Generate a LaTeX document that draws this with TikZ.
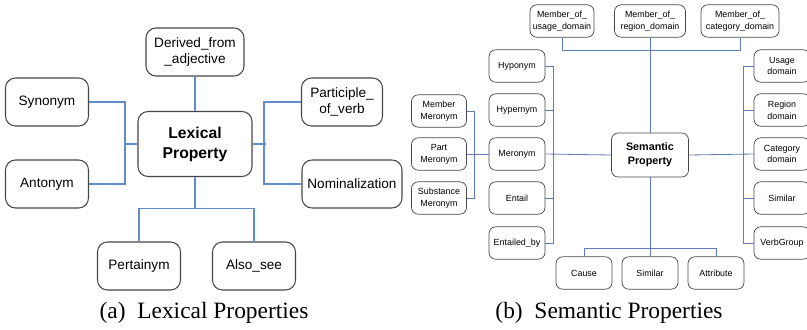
\documentclass[tikz,border=0pt]{standalone}
\usepackage{fontspec}
\setmainfont{Liberation Serif}
\setsansfont{Liberation Sans}
\usepackage{xcolor}
\usepackage{tikz}
\usetikzlibrary{positioning,calc}

\definecolor{lexblue}{RGB}{100,140,205}
\definecolor{semblue}{RGB}{95,125,180}
\definecolor{boxgray}{RGB}{70,70,70}

\begin{document}
\begin{tikzpicture}[x=0.03cm,y=-0.03cm,
  lexbox/.style={draw=boxgray,line width=0.9pt,rounded corners=0.3cm,align=center,inner sep=0pt,
    minimum width=2.49cm,minimum height=1.44cm,font=\sffamily\fontsize{11.6}{14}\selectfont},
  sembox/.style={draw=boxgray,line width=0.6pt,rounded corners=0.2cm,align=center,inner sep=0pt,
    minimum width=1.68cm,minimum height=0.97cm,font=\sffamily\fontsize{7.6}{10}\selectfont},
  lexline/.style={draw=lexblue,line width=1.3pt},
  semline/.style={draw=semblue,line width=0.7pt},
  caption/.style={anchor=base,font=\fontsize{20}{24}\selectfont}]
\useasboundingbox (0,0) rectangle (807,329);

% (a) lexical properties
\node[lexbox,minimum width=3.42cm,minimum height=1.95cm,font=\sffamily\bfseries\fontsize{13.4}{17}\selectfont] (lex) at (195,144) {Lexical\\Property};
\node[lexbox,minimum width=2.94cm] (derived) at (195,52) {Derived\_from\\\_adjective};
\node[lexbox] (syn) at (47,102) {Synonym};
\node[lexbox] (ant) at (47,184) {Antonym};
\node[lexbox,minimum width=2.43cm] (part) at (342,102) {Participle\_\\of\_verb};
\node[lexbox,minimum width=3.0cm] (nom) at (352,184) {Nominalization};
\node[lexbox] (pert) at (139,266) {Pertainym};
\node[lexbox] (also) at (254,266) {Also\_see};

\draw[lexline] (derived.south) -- (lex.north);
\draw[lexline] (syn.east) -- ++(36,0) |- (ant.east);
\draw[lexline] (lex.west) -- ++(-13,0);
\draw[lexline] (part.west) -- ++(-37,0) |- (nom.west);
\draw[lexline] (lex.east) -- ++(13,0);
\draw[lexline] (lex.south) -- ++(0,32);
\draw[lexline] (pert.north) -- ++(0,-33) -| (also.north);

\node[caption] (capa) at (204,318) {(a)\ \ Lexical Properties};

% (b) semantic properties
\node[sembox,minimum width=2.31cm,minimum height=1.32cm,font=\sffamily\bfseries\fontsize{9.2}{12}\selectfont] (sem) at (650,155) {Semantic\\Property};
\node[sembox,minimum width=1.92cm] (musage) at (562,21) {Member\_of\_\\usage\_domain};
\node[sembox,minimum width=2.13cm] (mregion) at (650,21) {Member\_of\_\\region\_domain};
\node[sembox,minimum width=2.34cm] (mcat) at (740,21) {Member\_of\_\\category\_domain};

\node[sembox] (hypo) at (517,66) {Hyponym};
\node[sembox] (hyper) at (517,110) {Hypernym};
\node[sembox] (mero) at (517,154) {Meronym};
\node[sembox] (entail) at (517,198) {Entail};
\node[sembox] (entby) at (517,243) {Entailed\_by};

\node[sembox,minimum width=1.65cm] (mmer) at (439,111) {Member\\Meronym};
\node[sembox,minimum width=1.65cm] (pmer) at (439,154) {Part\\Meronym};
\node[sembox,minimum width=1.65cm] (smer) at (439,198) {Substance\\Meronym};

\node[sembox] (usage) at (782,66) {Usage\\domain};
\node[sembox] (region) at (782,110) {Region\\domain};
\node[sembox] (catd) at (782,154) {Category\\domain};
\node[sembox] (simr) at (782,198) {Similar};
\node[sembox] (verb) at (782,243) {VerbGroup};

\node[sembox] (cause) at (584,273) {Cause};
\node[sembox] (simb) at (650,273) {Similar};
\node[sembox] (attr) at (716,273) {Attribute};

\draw[semline] (musage.south) -- ++(0,13) -| (mcat.south);
\draw[semline] (mregion.south) -- (sem.north);
\draw[semline] (hypo.east) -- ++(8,0) |- (entby.east);
\draw[semline] (hyper.east) -- ++(8,0);
\draw[semline] (entail.east) -- ++(8,0);
\draw[semline] (mero.east) -- (sem.west);
\draw[semline] (mmer.east) -- ++(8,0) |- (smer.east);
\draw[semline] (pmer.east) -- (mero.west);
\draw[semline] (usage.west) -- ++(-10,0) |- (verb.west);
\draw[semline] (region.west) -- ++(-10,0);
\draw[semline] (simr.west) -- ++(-10,0);
\draw[semline] (sem.east) -- (catd.west);
\draw[semline] (sem.south) -- (simb.north);
\draw[semline] (cause.north) -- ++(0,-8) -| (attr.north);

\node[caption] (capb) at (609,318) {(b)\ \ Semantic Properties};
\end{tikzpicture}
\end{document}
